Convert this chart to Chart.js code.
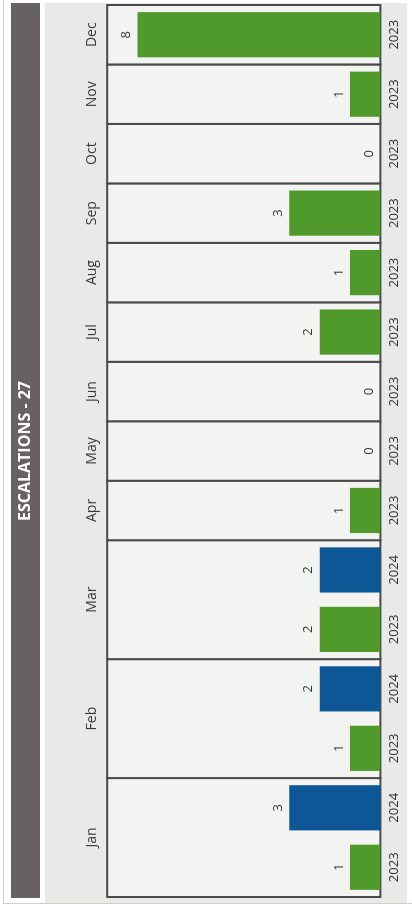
<!DOCTYPE html>
<html>
<head>
<meta charset="utf-8">
<script src="https://cdn.jsdelivr.net/npm/chart.js@4/dist/chart.umd.min.js"></script>
<style>
  html, body { margin: 0; padding: 0; background: #fff; }
  body { width: 412px; height: 909px; overflow: hidden; position: relative; }
  #wrap {
    position: absolute; left: 0; top: 0;
    width: 909px; height: 412px;
    transform-origin: 0 0;
    transform: translate(0, 909px) rotate(-90deg);
  }
</style>
</head>
<body>
<div id="wrap"><canvas id="esc" width="909" height="412"></canvas></div>
<script>

const MONTHS = ["Jan", "Jan", "Feb", "Feb", "Mar", "Mar", "Apr", "May", "Jun", "Jul", "Aug", "Sep", "Oct", "Nov", "Dec"]
const YEARS = ["2023", "2024", "2023", "2024", "2023", "2024", "2023", "2023", "2023", "2023", "2023", "2023", "2023", "2023", "2023"]
const COUNTS = [1, 3, 1, 2, 2, 2, 1, 0, 0, 2, 1, 3, 0, 1, 8]

const YEAR_COLORS = {
       "2023": "#4f9a2b",
       "2024": "#0d5797"
}

const FONT = "'Open Sans', 'DejaVu Sans', sans-serif"

const total = COUNTS.reduce((a, b) => a + b, 0)


// runs of bars that share a month -> one framed panel each
function monthGroups() {
       const groups = []
       MONTHS.forEach((m, i) => {
              const last = groups[groups.length - 1]
              if (last && last.month === m) last.end = i
              else groups.push({ month: m, start: i, end: i })
       })
       return groups
}


const panels = {

       id: "panels",

       beforeDraw(chart) {
              const ctx = chart.ctx
              ctx.save()

              ctx.fillStyle = "#fff"
              ctx.fillRect(0, 0, chart.width, chart.height)

              ctx.fillStyle = "#e9e9e8"
              ctx.fillRect(6, 45, 900, 362)

              ctx.strokeStyle = "#cfcfcf"
              ctx.lineWidth = 1
              ctx.strokeRect(5.5, 3.5, 910, 420)

              ctx.fillStyle = "#686163"
              ctx.fillRect(11, 11, 895, 29)

              ctx.restore()
       },

       beforeDatasetsDraw(chart) {
              const { ctx, chartArea, scales: { x } } = chart
              const half = (x.getPixelForValue(1) - x.getPixelForValue(0)) / 2

              ctx.save()

              monthGroups().forEach(g => {
                     const left = x.getPixelForValue(g.start) - half
                     const right = x.getPixelForValue(g.end) + half

                     ctx.fillStyle = "#f3f3f2"
                     ctx.fillRect(left, chartArea.top, right - left, chartArea.bottom - chartArea.top)

                     ctx.strokeStyle = "#4a4a4a"
                     ctx.lineWidth = 2
                     ctx.strokeRect(left, chartArea.top, right - left, chartArea.bottom - chartArea.top)

                     ctx.fillStyle = "#3a3a3a"
                     ctx.font = "14px " + FONT
                     ctx.textAlign = "center"
                     ctx.textBaseline = "middle"
                     ctx.fillText(g.month, (left + right) / 2, 92)
              })

              ctx.restore()
       },

       afterDatasetsDraw(chart) {
              const ctx = chart.ctx
              const meta = chart.getDatasetMeta(0)

              ctx.save()
              ctx.fillStyle = "#3a3a3a"
              ctx.font = "13px " + FONT
              ctx.textAlign = "center"
              ctx.textBaseline = "middle"

              meta.data.forEach((bar, i) => {
                     ctx.fillText(COUNTS[i], bar.x, bar.y - 11)
              })

              ctx.restore()
       }

}


new Chart(

       document.getElementById("esc"),

       {
              type: "bar",

              data: {
                     labels: YEARS,
                     datasets: [{
                            label: "Escalations",
                            data: COUNTS,
                            backgroundColor: YEARS.map(y => YEAR_COLORS[y]),
                            barPercentage: 0.76,
                            categoryPercentage: 1
                     }]
              },

              options: {
                     responsive: false,
                     animation: false,

                     layout: {
                            padding: { left: 12, right: 5, top: 0, bottom: 4 }
                     },

                     plugins: {
                            legend: { display: false },
                            tooltip: { enabled: false },
                            title: {
                                   display: true,
                                   text: "ESCALATIONS - " + total,
                                   color: "#ffffff",
                                   font: { family: FONT, size: 16, weight: "bold" },
                                   padding: { top: 16, bottom: 72 }
                            }
                     },

                     scales: {

                            x: {
                                   offset: true,
                                   grid: { display: false, drawTicks: false },
                                   border: { display: false },
                                   ticks: {
                                          color: "#333",
                                          padding: 6,
                                          font: { family: FONT, size: 13 }
                                   }
                            },

                            y: {
                                   display: false,
                                   min: 0,
                                   max: 9
                            }

                     }
              },

              plugins: [panels]
       }

)

</script>
</body>
</html>
